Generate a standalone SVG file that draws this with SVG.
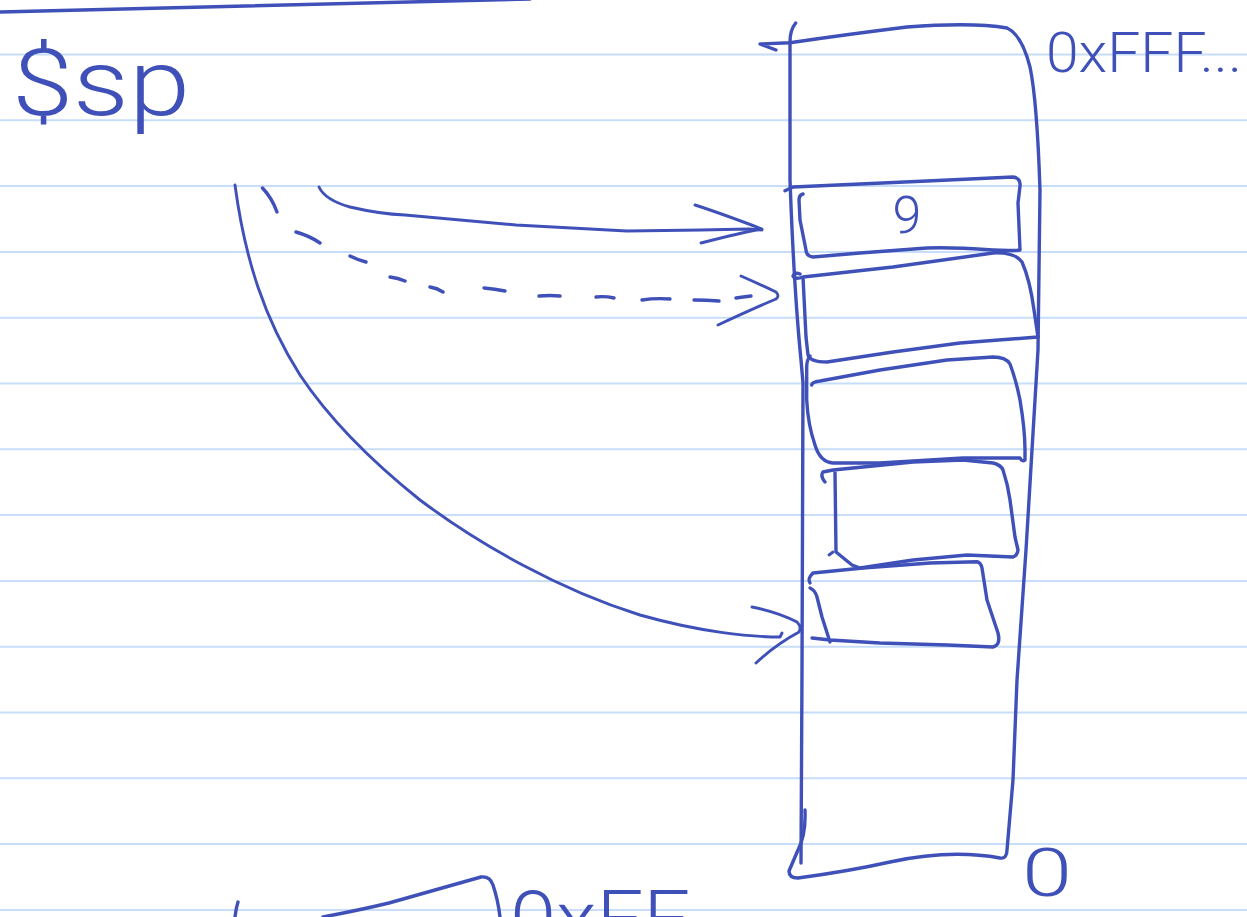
<svg xmlns="http://www.w3.org/2000/svg" width="1247" height="917" viewBox="0 0 1247 917">
<style>
.rule{stroke:#c8ddfa;stroke-width:2;fill:none}
.ink{stroke:#3f51b8;stroke-width:3.4;fill:none;stroke-linecap:round;stroke-linejoin:round}
.thin{stroke:#3f51b8;stroke-width:2.9;fill:none;stroke-linecap:round;stroke-linejoin:round}
.lbl{fill:#3f51b8;font-family:Roboto,"Liberation Sans",sans-serif;font-weight:300}
</style>
<rect width="1247" height="917" fill="#ffffff"/>
<g id="paper">
<path class="rule" d="M0,54.5H1247M0,120.3H1247M0,186.1H1247M0,251.9H1247M0,317.7H1247M0,383.5H1247M0,449.3H1247M0,515.1H1247M0,580.9H1247M0,646.7H1247M0,712.5H1247M0,778.3H1247M0,844.1H1247M0,909.9H1247"/>
<path class="ink" d="M0,12 Q250,5 530,-1"/>
</g>
<g id="sp-label">
<text class="lbl" x="12" y="115" font-size="92" textLength="178" lengthAdjust="spacingAndGlyphs">$sp</text>
</g>
<g id="addr-top">
<text class="lbl" x="1046" y="72" font-size="56" textLength="196" lengthAdjust="spacingAndGlyphs">0xFFF...</text>
</g>
<g id="addr-bottom">
<text class="lbl" x="1047" y="896" font-size="66" text-anchor="middle" textLength="50" lengthAdjust="spacingAndGlyphs">0</text>
</g>
<g id="stack">
<path class="ink" d="M795.7,23 Q790,30 790,42 L790,180 Q794,290 801,360 L803,383 L802,670 L801,863"/>
<path class="ink" d="M805,810 Q806,835 798,850 L789,871 Q789,878 798,878 Q850,871 890,862 Q950,849 1000,858 Q1007,859 1007,850 L1013,780 L1017,680 L1026,550 L1038,350 L1040,190 Q1037,100 1030,67 Q1022,35 1007,28 Q973,22 907,27 Q850,34 790,42.7 L760,44 Q768,47 776,50"/>
</g>
<g id="slot1">
<path class="ink" d="M785,190.7 L793,187 Q860,184 927,181 L1013,177 Q1021,178 1020,186 L1018,203 L1020,250 Q1010,251 993,250 Q950,247 927,248 L860,253 L813,257 Q806,256 806,250 L800,220 L799,200 Q799,195 803,194"/>
<text class="lbl" x="907" y="233" font-size="52" text-anchor="middle">9</text>
</g>
<g id="slot2">
<path class="ink" d="M800,274 Q795,272 793,276 Q795,280 803,277 L893,267 L993,253 Q1015,252 1022,262 Q1030,280 1034,310 L1038,337 L960,343 L893,352 L827,362 Q810,362 808,355 L806,337 L803,277"/>
</g>
<g id="slot3">
<path class="ink" d="M811.7,385 Q812,382 820,381 L880,370 L947,360 L993,357 Q1006,357 1010,364 Q1016,380 1020,400 Q1025,430 1025,450 L1025,460 Q1022,462 1020,458 L963,458 L880,463 L833,463 Q820,462 815,445 Q808,425 806.7,400 L806.7,367 Q806.7,360 810,356"/>
</g>
<g id="slot4">
<path class="ink" d="M825,482 Q820,476 823,472 L833,470 L913,462 L963,460 L993,463 Q1001,465 1003,470 Q1008,485 1010,500 L1015,537 L1018,550 Q1017,556 1013,557 L967,555 L913,560 L860,568 L852,565 L836,552 L835,472"/>
<path class="thin" d="M829,555 L833,552"/>
</g>
<g id="slot5">
<path class="ink" d="M810,583 Q807,579 813,573 L863,568 L930,563 L977,561.7 Q981,563 982,568 L987,600 L998,633 Q1001,645 993,647 L947,645 L880,643 L830,640 L812,638"/>
<path class="ink" d="M810,588 Q815,590 817,597 L822,617 L830,642"/>
</g>
<g id="stack-below">
<path class="ink" d="M238,902 Q236,908 235,917"/>
<path class="ink" d="M323,917 Q360,910 389,903 L481,877 Q490,876 493,885 Q498,900 500,917"/>
<text class="lbl" x="510" y="946" font-size="78" textLength="180" lengthAdjust="spacingAndGlyphs">0xFF</text>
</g>
<g id="connectors">
<path class="thin" d="M319,187 Q325,200 350,207 Q380,214 405,215 L516,225 L627,231 L701,230 L749,229 L762,230"/>
<path class="thin" d="M695,205 Q720,213 762,229 Q740,233 701,243"/>
<path class="ink" d="M262.5,188 Q272,198 277,212 M296,232 Q310,236 320,243 M350,256 Q358,260 366,262 M390,277 Q398,278 405,281 M430,287 Q437,288 443,292 M484,288 Q495,289 505,291 M539,296 Q550,295 560,296 M596,297 Q605,296 614,298 M642,300 Q655,298 670,299 M694,300 Q707,300 719,301 M736,298 Q743,297 751,296"/>
<path class="thin" d="M741,276 Q757,283 776,292 Q780,296 776,299 Q750,310 718,325"/>
<path class="thin" d="M235,185 C245,260 265,320 300,375 C330,420 370,460 420,500 C480,545 560,590 640,615 C700,632 750,637 780,637 L782,633"/>
<path class="thin" d="M752,607 Q778,612 797,622 Q802,627 799,632 Q775,645 756,663"/>
</g>
</svg>
